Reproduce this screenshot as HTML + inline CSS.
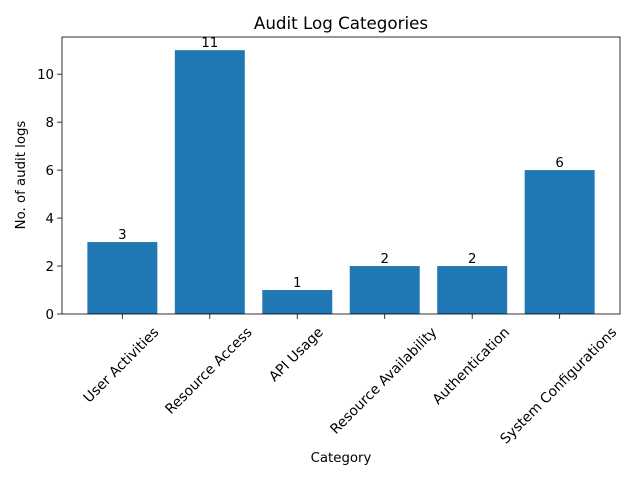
<!DOCTYPE html>
<html><head><meta charset="utf-8"><style>
body{margin:0;background:#fff}
svg text{font-family:"DejaVu Sans","Liberation Sans",sans-serif;fill:#000}
</style></head><body>
<svg id="chart" width="640" height="480">
<rect width="640" height="480" fill="#fff"/>
<text x="341" y="29" font-size="16.7" text-anchor="middle">Audit Log Categories</text>
<text x="341" y="462" font-size="13.3" text-anchor="middle">Category</text>
<text transform="translate(25,175) rotate(-90)" font-size="13.3" text-anchor="middle">No. of audit logs</text>
<g id="plot"></g>
</svg>
<script>
const categories=["User Activities","Resource Access","API Usage","Resource Availability","Authentication","System Configurations"];
const values=[3,11,1,2,2,6];
const yTicks=[0,2,4,6,8,10];
const L=62,R=620,T=37,B=314;
const ymax=Math.max(...values)*1.05;
const n=categories.length;
const xmin=-0.4-0.05*(n-0.2),xmax=n-1+0.4+0.05*(n-0.2);
const xs=v=>L+(v-xmin)/(xmax-xmin)*(R-L);
const ys=v=>B-v/ymax*(B-T);
const NS="http://www.w3.org/2000/svg";
const g=document.getElementById('plot');
function mk(t,a){const e=document.createElementNS(NS,t);for(const k in a)e.setAttribute(k,a[k]);g.appendChild(e);return e;}
values.forEach((v,i)=>{
 const r=mk('rect',{x:xs(i-0.4),y:ys(v),width:xs(i+0.4)-xs(i-0.4),height:B-ys(v),fill:'#1f77b4'});
 
 
 const t=mk('text',{x:xs(i),y:ys(v)-3,'font-size':13.3,'text-anchor':'middle'});t.textContent=v;
 
 
 mk('line',{x1:xs(i),x2:xs(i),y1:B,y2:B+4.9,stroke:'#000','stroke-width':0.8});
 const lb=mk('text',{'font-size':13.9,'text-anchor':'end'});lb.textContent=categories[i];
 
 
 const w=lb.getComputedTextLength()*0.7071;
 const px=xs(i)+w/2+2,py=333;
 lb.setAttribute('transform',`translate(${px},${py}) rotate(-45)`);
});
yTicks.forEach(v=>{
 mk('line',{x1:L-4.9,x2:L,y1:ys(v),y2:ys(v),stroke:'#000','stroke-width':0.8});
 const t=mk('text',{x:L-8,y:ys(v)+5,'font-size':13.3,'text-anchor':'end'});t.textContent=v;
 
 
});
const f=mk('rect',{x:L,y:T,width:R-L,height:B-T,fill:'none',stroke:'#000','stroke-width':0.8});


</script>
</body></html>
